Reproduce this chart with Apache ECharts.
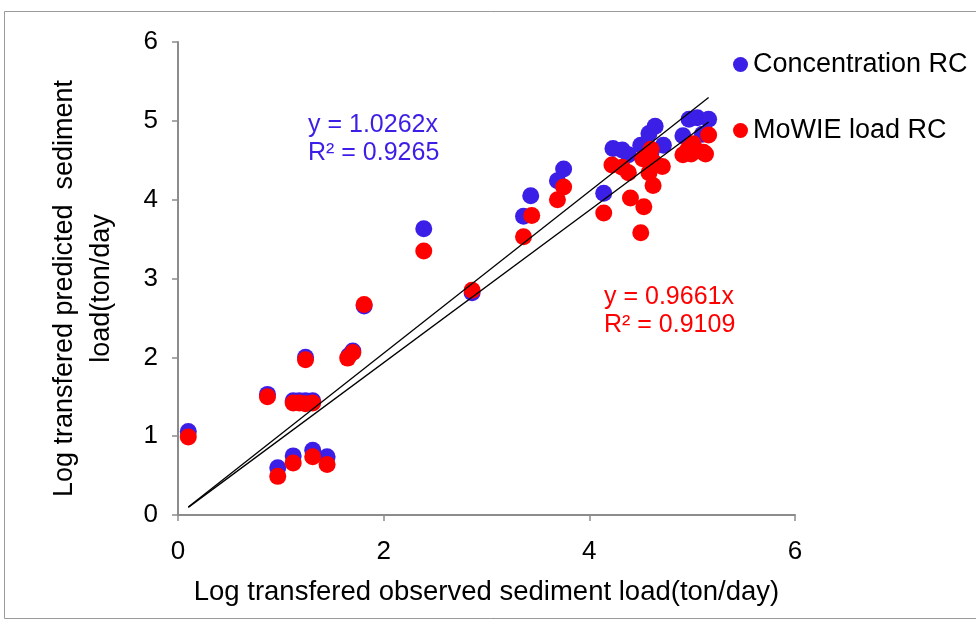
<!DOCTYPE html>
<html><head><meta charset="utf-8">
<script src="https://cdn.jsdelivr.net/npm/echarts@6/dist/echarts.min.js"></script>
<style>html,body{margin:0;padding:0;background:#fff}#c{width:976px;height:624px}</style>
</head><body><div id="c"></div>
<script>
const concentrationRC = [[0.10,1.06],[0.87,1.53],[0.97,0.60],[1.12,0.75],[1.31,0.82],[1.45,0.74],[1.12,1.45],[1.18,1.45],[1.24,1.45],[1.31,1.45],[1.24,2.00],[1.66,2.02],[1.70,2.08],[1.81,2.65],[2.39,3.63],[2.86,2.82],[3.36,3.79],[3.43,4.05],[3.69,4.24],[3.75,4.39],[4.14,4.08],[4.23,4.65],[4.32,4.63],[4.38,4.57],[4.50,4.69],[4.58,4.84],[4.64,4.93],[4.72,4.69],[4.55,4.55],[4.60,4.60],[4.91,4.81],[4.97,5.02],[5.05,5.04],[5.16,5.02],[5.10,4.83]];
const mowieLoadRC = [[0.10,0.99],[0.87,1.50],[0.97,0.49],[1.12,0.66],[1.31,0.74],[1.45,0.64],[1.12,1.42],[1.18,1.42],[1.24,1.41],[1.31,1.42],[1.24,1.97],[1.65,1.99],[1.70,2.06],[1.81,2.67],[2.39,3.35],[2.86,2.85],[3.36,3.53],[3.44,3.80],[3.69,4.00],[3.75,4.16],[4.14,3.83],[4.22,4.44],[4.32,4.41],[4.38,4.34],[4.40,4.02],[4.50,3.58],[4.53,3.91],[4.62,4.18],[4.52,4.52],[4.60,4.64],[4.63,4.47],[4.71,4.42],[4.58,4.34],[4.91,4.57],[4.99,4.58],[5.01,4.71],[5.11,4.60],[5.13,4.58],[5.16,4.82],[4.96,4.64]];
const slopeConc = 1.0262, r2Conc = 0.9265;
const slopeMowie = 0.9661, r2Mowie = 0.9109;
const trendRange = [0.1, 5.16];
const xTicks = [0, 2, 4, 6];
const yTicks = [0, 1, 2, 3, 4, 5, 6];

const blue = '#3c1fe6', red = '#ff0000';
const font = 'Liberation Sans, Arial, sans-serif';
const chart = echarts.init(document.getElementById('c'));
const trend = s => trendRange.map(x => [x, s * x]);
chart.setOption({
  animation: false,
  textStyle: {fontFamily: font},
  grid: {left: 178, top: 42, right: 181, bottom: 109},
  legend: {
    orient: 'vertical', left: 728, top: 46, itemGap: 39,
    itemWidth: 15, itemHeight: 15,
    textStyle: {fontSize: 27, color: '#000', fontFamily: font},
    data: [{name: 'Concentration RC', icon: 'circle'}, {name: 'MoWIE load RC', icon: 'circle'}]
  },
  xAxis: {
    type: 'value', min: 0, max: 6, interval: 2,
    name: 'Log transfered observed sediment load(ton/day)', nameLocation: 'middle', nameGap: 63,
    nameTextStyle: {fontSize: 27.5, color: '#000', fontFamily: font},
    axisLine: {show: true, lineStyle: {color: '#8c8c8c', width: 2}},
    axisTick: {show: true, length: 6, lineStyle: {color: '#8c8c8c', width: 1.5}},
    axisLabel: {fontSize: 26, color: '#000', margin: 24, fontFamily: font, formatter: v => xTicks.includes(v) ? String(v) : ''},
    splitLine: {show: false}
  },
  yAxis: {
    type: 'value', min: 0, max: 6, interval: 1,
    name: 'Log transfered predicted  sediment\nload(ton/day', nameLocation: 'middle', nameGap: 58,
    nameTextStyle: {fontSize: 27, color: '#000', lineHeight: 37, fontFamily: font, padding: [0, 20, 0, 0]},
    axisLine: {show: true, lineStyle: {color: '#8c8c8c', width: 2}},
    axisTick: {show: true, length: 6, lineStyle: {color: '#8c8c8c', width: 1.5}},
    axisLabel: {fontSize: 26, color: '#000', margin: 20, fontFamily: font, formatter: v => yTicks.includes(v) ? String(v) : ''},
    splitLine: {show: false}
  },
  series: [
    {name: 'Concentration RC', type: 'scatter', data: concentrationRC, symbolSize: 17, itemStyle: {color: blue, opacity: 1}, z: 2},
    {name: 'MoWIE load RC', type: 'scatter', data: mowieLoadRC, symbolSize: 17, itemStyle: {color: red, opacity: 1}, z: 3},
    {name: 'trendConc', type: 'line', data: trend(slopeConc), symbol: 'none', lineStyle: {color: '#000', width: 1.3}, z: 4, silent: true},
    {name: 'trendMowie', type: 'line', data: trend(slopeMowie), symbol: 'none', lineStyle: {color: '#000', width: 1.3}, z: 4, silent: true}
  ],
  graphic: [
    {type: 'rect', shape: {x: 4.5, y: 11.5, width: 990, height: 607}, style: {fill: 'none', stroke: '#9a9a9a', lineWidth: 1}, z: -1},
    {type: 'text', left: 308, top: 111, style: {text: 'y = ' + slopeConc + 'x\nR² = ' + r2Conc, fill: blue, font: '25px ' + font, lineHeight: 28}},
    {type: 'text', left: 604, top: 283, style: {text: 'y = ' + slopeMowie + 'x\nR² = ' + r2Mowie, fill: red, font: '25px ' + font, lineHeight: 28}}
  ]
});
</script></body></html>
